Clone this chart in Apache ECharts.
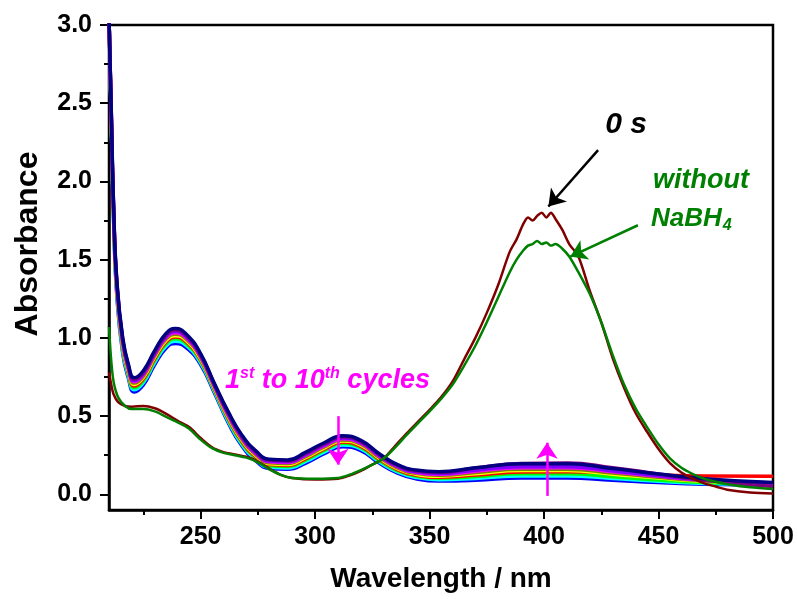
<!DOCTYPE html>
<html>
<head>
<meta charset="utf-8">
<script src="https://cdn.jsdelivr.net/npm/echarts@6/dist/echarts.min.js"></script>
<style>
html,body{margin:0;padding:0;background:#fff;}
#main{width:798px;height:599px;}
</style>
</head>
<body>
<div id="main"></div>
<script>
// wavelengths (nm) for the 10 cycle spectra
var wlCycle = [210, 211, 212, 213.5, 216, 218.5, 221, 225, 230, 235, 239, 244, 250, 256, 262, 268, 274, 280, 288, 296, 304, 312, 320, 328, 336, 344, 354, 370, 390, 410, 430, 450, 470, 500];

var cycBlue    = [3.05, 2.35, 1.75, 1.25, 0.9, 0.74, 0.655, 0.7, 0.83, 0.935, 0.965, 0.935, 0.83, 0.65, 0.46, 0.31, 0.215, 0.165, 0.16, 0.2, 0.26, 0.305, 0.28, 0.2, 0.135, 0.1, 0.085, 0.09, 0.105, 0.105, 0.09, 0.075, 0.065, 0.06];
var cycCyan    = [3.05, 2.365, 1.765, 1.265, 0.915, 0.754, 0.669, 0.714, 0.844, 0.949, 0.979, 0.948, 0.84, 0.659, 0.47, 0.32, 0.225, 0.174, 0.169, 0.21, 0.27, 0.315, 0.29, 0.209, 0.143, 0.108, 0.094, 0.102, 0.118, 0.118, 0.101, 0.083, 0.07, 0.062];
var cycLime    = [3.05, 2.38, 1.78, 1.28, 0.93, 0.767, 0.682, 0.727, 0.857, 0.964, 0.994, 0.96, 0.851, 0.668, 0.481, 0.331, 0.235, 0.183, 0.178, 0.221, 0.281, 0.326, 0.3, 0.218, 0.152, 0.117, 0.103, 0.114, 0.132, 0.132, 0.113, 0.092, 0.076, 0.065];
var cycRed     = [3.05, 2.392, 1.792, 1.292, 0.942, 0.778, 0.693, 0.738, 0.868, 0.975, 1.005, 0.971, 0.859, 0.675, 0.489, 0.339, 0.242, 0.19, 0.185, 0.229, 0.289, 0.334, 0.307, 0.225, 0.158, 0.123, 0.11, 0.124, 0.143, 0.145, 0.14, 0.125, 0.117, 0.115];
var cycYellow  = [3.05, 2.402, 1.802, 1.302, 0.952, 0.787, 0.702, 0.747, 0.877, 0.984, 1.014, 0.979, 0.866, 0.681, 0.496, 0.346, 0.249, 0.196, 0.191, 0.236, 0.296, 0.341, 0.314, 0.231, 0.164, 0.129, 0.116, 0.132, 0.152, 0.152, 0.129, 0.104, 0.083, 0.068];
var cycOlive   = [3.05, 2.412, 1.812, 1.312, 0.962, 0.796, 0.711, 0.756, 0.886, 0.994, 1.024, 0.988, 0.873, 0.687, 0.503, 0.353, 0.255, 0.202, 0.197, 0.243, 0.303, 0.348, 0.32, 0.237, 0.169, 0.134, 0.122, 0.14, 0.161, 0.161, 0.137, 0.109, 0.087, 0.069];
var cycMagenta = [3.05, 2.422, 1.822, 1.322, 0.972, 0.805, 0.72, 0.765, 0.895, 1.003, 1.033, 0.996, 0.88, 0.693, 0.51, 0.36, 0.262, 0.208, 0.203, 0.25, 0.31, 0.355, 0.327, 0.243, 0.175, 0.14, 0.128, 0.148, 0.17, 0.17, 0.144, 0.115, 0.09, 0.071];
var cycViolet  = [3.05, 2.43, 1.83, 1.33, 0.98, 0.812, 0.727, 0.772, 0.902, 1.011, 1.041, 1.003, 0.886, 0.698, 0.516, 0.366, 0.267, 0.213, 0.208, 0.256, 0.316, 0.361, 0.332, 0.248, 0.179, 0.144, 0.133, 0.154, 0.177, 0.177, 0.15, 0.119, 0.093, 0.072];
var cycPurple  = [3.05, 2.44, 1.84, 1.34, 0.99, 0.821, 0.736, 0.781, 0.911, 1.02, 1.05, 1.011, 0.893, 0.704, 0.523, 0.373, 0.273, 0.219, 0.214, 0.263, 0.323, 0.368, 0.339, 0.254, 0.185, 0.15, 0.139, 0.168, 0.198, 0.2, 0.17, 0.13, 0.09, 0.05];
var cycNavy    = [3.05, 2.45, 1.85, 1.35, 1.0, 0.83, 0.745, 0.79, 0.92, 1.03, 1.06, 1.02, 0.9, 0.71, 0.53, 0.38, 0.28, 0.225, 0.22, 0.27, 0.33, 0.375, 0.345, 0.26, 0.19, 0.155, 0.145, 0.17, 0.195, 0.195, 0.165, 0.13, 0.1, 0.075];

// wavelengths (nm) for the 0 s and "without NaBH4" spectra
var wlNitro = [210, 211, 212, 214, 217, 220, 225, 230, 235, 240, 245, 250, 255, 260, 265, 270, 275, 280, 285, 290, 300, 310, 315, 320, 325, 330, 335, 340, 345, 350, 355, 360, 365, 370, 375, 380, 385, 388, 391, 393, 395, 397, 399, 401, 403, 405, 408, 411, 415, 420, 425, 430, 435, 440, 445, 450, 455, 460, 465, 470, 475, 480, 490, 500];
var zeroSec = [0.78, 0.7, 0.64, 0.59, 0.565, 0.56, 0.565, 0.55, 0.515, 0.47, 0.43, 0.36, 0.3, 0.27, 0.255, 0.24, 0.21, 0.165, 0.125, 0.105, 0.095, 0.1, 0.12, 0.15, 0.19, 0.23, 0.31, 0.39, 0.465, 0.54, 0.62, 0.72, 0.86, 1.0, 1.16, 1.34, 1.55, 1.63, 1.73, 1.77, 1.75, 1.78, 1.8, 1.77, 1.8, 1.76, 1.69, 1.6, 1.52, 1.3, 1.1, 0.87, 0.68, 0.52, 0.4, 0.29, 0.2, 0.14, 0.1, 0.07, 0.05, 0.03, 0.012, 0.005];
var withoutNaBH4 = [1.07, 0.85, 0.72, 0.62, 0.565, 0.545, 0.545, 0.53, 0.495, 0.46, 0.42, 0.35, 0.295, 0.265, 0.25, 0.235, 0.205, 0.16, 0.125, 0.105, 0.1, 0.105, 0.125, 0.155, 0.19, 0.23, 0.3, 0.38, 0.455, 0.53, 0.61, 0.7, 0.82, 0.95, 1.1, 1.26, 1.42, 1.5, 1.56, 1.59, 1.6, 1.62, 1.6, 1.61, 1.59, 1.6, 1.57, 1.52, 1.42, 1.28, 1.1, 0.89, 0.7, 0.55, 0.43, 0.32, 0.23, 0.17, 0.13, 0.1, 0.08, 0.065, 0.045, 0.035];

var xMajor = [250, 300, 350, 400, 450, 500];
var xMinor = [225, 275, 325, 375, 425, 475];
var yMajor = [0, 0.5, 1.0, 1.5, 2.0, 2.5, 3.0];
var yMinor = [0.25, 0.75, 1.25, 1.75, 2.25, 2.75];

var FONT = '"Liberation Sans", Arial, sans-serif';

function pairs(xs, ys) {
    return xs.map(function (x, i) { return [x, ys[i]]; });
}

var cycles = [
    { name: 'cycle blue', color: '#0000FF', data: cycBlue },
    { name: 'cycle cyan', color: '#00FFFF', data: cycCyan },
    { name: 'cycle lime', color: '#00FF00', data: cycLime },
    { name: 'cycle red', color: '#FF0000', data: cycRed },
    { name: 'cycle yellow', color: '#FFFF00', data: cycYellow },
    { name: 'cycle olive', color: '#808000', data: cycOlive },
    { name: 'cycle magenta', color: '#FF00FF', data: cycMagenta },
    { name: 'cycle violet', color: '#8000FF', data: cycViolet },
    { name: 'cycle purple', color: '#800080', data: cycPurple },
    { name: 'cycle navy', color: '#000080', data: cycNavy }
];

var series = cycles.map(function (c) {
    return {
        name: c.name,
        type: 'line',
        data: pairs(wlCycle, c.data),
        showSymbol: false,
        smooth: 0.5,
        lineStyle: { color: c.color, width: 3.5 },
        silent: true
    };
});

function arrow(x1, y1, x2, y2, color) {
    return [
        { coord: [x1, y1], lineStyle: { color: color, width: 2.5, type: 'solid' } },
        { coord: [x2, y2] }
    ];
}

series.push({
    name: '0 s',
    type: 'line',
    data: pairs(wlNitro, zeroSec),
    showSymbol: false,
    smooth: 0.3,
    lineStyle: { color: '#800000', width: 2.5 },
    silent: true
});
series.push({
    name: 'without NaBH4',
    type: 'line',
    data: pairs(wlNitro, withoutNaBH4),
    showSymbol: false,
    smooth: 0.3,
    lineStyle: { color: '#008000', width: 2.5 },
    silent: true,
    markLine: {
        silent: true,
        symbol: ['none', 'arrow'],
        symbolSize: 16,
        label: { show: false },
        data: [
            arrow(423.6, 2.2, 401.9, 1.84, '#000000'),
            arrow(441, 1.72, 411.5, 1.52, '#008000'),
            arrow(310, 0.5, 310, 0.19, '#FF00FF'),
            arrow(401.3, -0.01, 401.3, 0.33, '#FF00FF')
        ]
    }
});

var myChart = echarts.init(document.getElementById('main'));
var option = {
    animation: false,
    backgroundColor: '#fff',
    grid: {
        left: 109, right: 25, top: 25, bottom: 89,
        show: true, borderColor: '#000', borderWidth: 2.5, backgroundColor: 'transparent'
    },
    xAxis: [{
        type: 'value', min: 210, max: 500, position: 'bottom',
        name: 'Wavelength / nm', nameLocation: 'middle', nameGap: 55,
        nameTextStyle: { fontFamily: FONT, fontWeight: 'bold', fontSize: 28, color: '#000' },
        axisLine: { onZero: false, lineStyle: { color: '#000', width: 2.5 } },
        axisTick: { customValues: xMajor, length: 9, lineStyle: { color: '#000', width: 2 } },
        axisLabel: { customValues: xMajor, margin: 15, fontFamily: FONT, fontWeight: 'bold', fontSize: 25, color: '#000' },
        splitLine: { show: false }
    }, {
        type: 'value', min: 210, max: 500, position: 'bottom',
        axisLine: { show: false, onZero: false },
        axisTick: { customValues: xMinor, length: 5, lineStyle: { color: '#000', width: 2 } },
        axisLabel: { show: false },
        splitLine: { show: false }
    }],
    yAxis: [{
        type: 'value', min: -0.1, max: 3.0, position: 'left',
        axisLine: { onZero: false, show: true, lineStyle: { color: '#000', width: 2.5 } },
        axisTick: { show: true, customValues: yMajor, length: 9, lineStyle: { color: '#000', width: 2 } },
        axisLabel: {
            customValues: yMajor, margin: 17, fontFamily: FONT, fontWeight: 'bold', fontSize: 25, color: '#000',
            formatter: function (v) { return v.toFixed(1); }
        },
        splitLine: { show: false }
    }, {
        type: 'value', min: -0.1, max: 3.0, position: 'left',
        axisLine: { show: false, onZero: false },
        axisTick: { show: true, customValues: yMinor, length: 5, lineStyle: { color: '#000', width: 2 } },
        axisLabel: { show: false },
        splitLine: { show: false }
    }],
    graphic: [
        {
            type: 'text', x: 28, y: 244, rotation: Math.PI / 2,
            style: { text: 'Absorbance', font: 'bold 32px ' + FONT, fill: '#000', align: 'center', verticalAlign: 'middle' }
        },
        {
            type: 'text', x: 626, y: 125,
            style: { text: '0 s', font: 'italic bold 30px ' + FONT, fill: '#000', align: 'center', verticalAlign: 'middle' }
        },
        {
            type: 'text', x: 701, y: 181,
            style: { text: 'without', font: 'italic bold 27px ' + FONT, fill: '#008000', align: 'center', verticalAlign: 'middle' }
        },
        {
            type: 'text', x: 651, y: 206,
            style: {
                text: '{a|NaBH}{b|4}', align: 'left', verticalAlign: 'top', fill: '#008000',
                rich: {
                    a: { font: 'italic bold 26px ' + FONT, fill: '#008000', lineHeight: 28, verticalAlign: 'top' },
                    b: { font: 'italic bold 16px ' + FONT, fill: '#008000', lineHeight: 16, verticalAlign: 'bottom', padding: [22, 0, 0, 1] }
                }
            }
        },
        {
            type: 'text', x: 225, y: 366,
            style: {
                text: '{a|1}{s|st}{a| to 10}{s|th}{a| cycles}', align: 'left', verticalAlign: 'top', fill: '#FF00FF',
                rich: {
                    a: { font: 'italic bold 27px ' + FONT, fill: '#FF00FF', lineHeight: 28, verticalAlign: 'bottom', padding: [10, 0, 0, 0] },
                    s: { font: 'italic bold 16px ' + FONT, fill: '#FF00FF', lineHeight: 16, verticalAlign: 'top' }
                }
            }
        }
    ],
    series: series
};
myChart.setOption(option);
</script>
</body>
</html>
